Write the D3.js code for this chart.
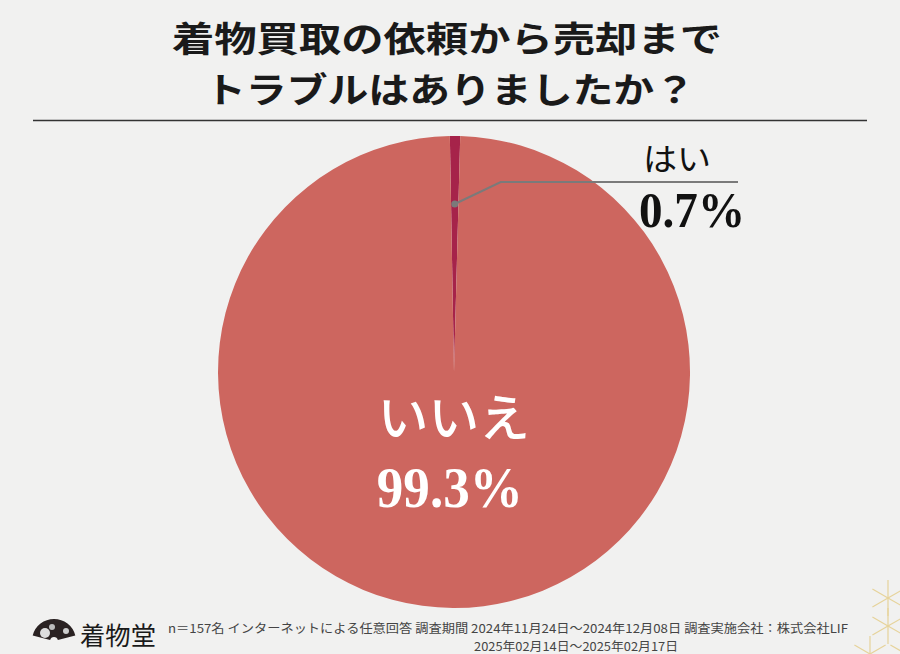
<!DOCTYPE html>
<html><head><meta charset="utf-8">
<script src="https://cdn.jsdelivr.net/npm/d3@7"></script>
<style>html,body{margin:0;padding:0;background:#f1f1f0;}svg{display:block;}</style>
</head><body>
<script>
const categories = ["はい", "いいえ"];
const values = [0.7, 99.3];
const valueLabels = ["0.7%", "99.3%"];
const titleLines = ["着物買取の依頼から売却まで", "トラブルはありましたか？"];
const footerLines = ["n＝157名 インターネットによる任意回答 調査期間 2024年11月24日～2024年12月08日 調査実施会社：株式会社LIF", "2025年02月14日～2025年02月17日"];
const brand = "着物堂";

const W = 900, H = 654;
const svg = d3.select("body").append("svg").attr("width", W).attr("height", H);
svg.append("rect").attr("width", W).attr("height", H).attr("fill", "#f1f1f0");

const cjk = "'Noto Sans CJK JP', 'Noto Sans', sans-serif";
const serif = "'Liberation Serif', 'DejaVu Serif', serif";

// title: two lines
const titleY = [52, 103];
const titleX = [447, 450];
const titleW = [550, 490];
titleLines.forEach((t, i) => {
  svg.append("text").attr("text-anchor", "middle")
    .attr("x", titleX[i]).attr("y", titleY[i])
    .attr("font-family", cjk).attr("font-weight", 700).attr("font-size", 35).attr("fill", "#1a1a1a")
    .attr("textLength", titleW[i]).attr("lengthAdjust", "spacingAndGlyphs").text(t);
});
svg.append("line").attr("x1", 33).attr("x2", 867).attr("y1", 120.5).attr("y2", 120.5)
  .attr("stroke", "#333").attr("stroke-width", 1.3);

// pie
const cx = 454, cy = 372, R = 236;
const colors = d3.scaleOrdinal().domain(categories).range(["#a6234a", "#cd665f"]);
const startA = -0.4 * 2 * Math.PI * values[0] / 100;
const pie = d3.pie().sort(null).value(d => d.v).startAngle(startA).endAngle(startA + 2 * Math.PI);
const data = categories.map((c, i) => ({ c, v: values[i], label: valueLabels[i] }));
const arcs = pie(data);
const arc = d3.arc().innerRadius(0).outerRadius(R);
const g = svg.append("g").attr("transform", `translate(${cx},${cy})`);
g.selectAll("path").data(arcs).join("path")
  .attr("d", arc).attr("fill", d => colors(d.data.c));

// small slice label with leader
const dotArc = d3.arc().innerRadius(168).outerRadius(168);
const p0 = dotArc.centroid(arcs[0]);
const elbow = [p0[0] + 46, p0[1] - 22];
const endX = 738 - cx;
g.append("polyline").attr("points", [p0, elbow, [endX, elbow[1]]].map(p => p.join(",")).join(" "))
  .attr("fill", "none").attr("stroke", "#7a7a7a").attr("stroke-width", 2);
g.append("circle").attr("cx", p0[0]).attr("cy", p0[1]).attr("r", 3.5).attr("fill", "#7a7a7a");
g.append("text").attr("x", 643 - cx).attr("y", elbow[1] - 12)
  .attr("font-family", cjk).attr("font-weight", 400).attr("font-size", 31).attr("fill", "#111")
  .attr("textLength", 68).attr("lengthAdjust", "spacingAndGlyphs")
  .text(arcs[0].data.c);
g.append("text").attr("x", 639 - cx).attr("y", elbow[1] + 45)
  .attr("font-family", serif).attr("font-weight", 700).attr("font-size", 50).attr("fill", "#111")
  .attr("textLength", 106).attr("lengthAdjust", "spacingAndGlyphs")
  .text(arcs[0].data.label);

// big slice label
const bigArc = d3.arc().innerRadius(46).outerRadius(46);
const pb = bigArc.centroid(arcs[1]);
g.append("text").attr("x", pb[0]).attr("y", pb[1] + 18).attr("text-anchor", "middle")
  .attr("font-family", cjk).attr("font-weight", 500).attr("font-size", 50).attr("fill", "#fff")
  .attr("textLength", 152).attr("lengthAdjust", "spacingAndGlyphs")
  .text(arcs[1].data.c);
g.append("text").attr("x", pb[0] - 4).attr("y", pb[1] + 89).attr("text-anchor", "middle")
  .attr("font-family", serif).attr("font-weight", 700).attr("font-size", 58).attr("fill", "#fff")
  .attr("textLength", 146).attr("lengthAdjust", "spacingAndGlyphs")
  .text(arcs[1].data.label);

// footer logo (fan)
const fan = svg.append("g").attr("transform", "translate(54,641)");
fan.append("path").attr("d", d3.arc().innerRadius(4).outerRadius(22).startAngle(-Math.PI * 0.42).endAngle(Math.PI * 0.42)())
  .attr("fill", "#2a2222");
fan.append("circle").attr("cx", -9).attr("cy", -8).attr("r", 5).attr("fill", "#ddd");
fan.append("circle").attr("cx", -2).attr("cy", -14).attr("r", 3).attr("fill", "#bbb");
fan.append("circle").attr("cx", 12).attr("cy", -10).attr("r", 3).attr("fill", "#ccc");
svg.append("text").attr("x", 80).attr("y", 645)
  .attr("font-family", cjk).attr("font-weight", 400).attr("font-size", 25).attr("fill", "#1a1a1a")
  .attr("textLength", 76).attr("lengthAdjust", "spacingAndGlyphs").text(brand);

// footer text
svg.append("text").attr("x", 168).attr("y", 633)
  .attr("font-family", cjk).attr("font-size", 12).attr("fill", "#444")
  .attr("textLength", 680).attr("lengthAdjust", "spacingAndGlyphs").text(footerLines[0]);
svg.append("text").attr("x", 474).attr("y", 651)
  .attr("font-family", cjk).attr("font-size", 12).attr("fill", "#444")
  .attr("textLength", 204).attr("lengthAdjust", "spacingAndGlyphs").text(footerLines[1]);

// corner decoration (asanoha)
const deco = svg.append("g").attr("stroke", "#e6d39a").attr("stroke-width", 1.2).attr("fill", "none");
const hexC = [[888, 626], [870, 654], [906, 654], [888, 598]];
hexC.forEach(([x, y]) => {
  for (let k = 0; k < 6; k++) {
    const a = Math.PI / 3 * k - Math.PI / 2;
    deco.append("line").attr("x1", x).attr("y1", y).attr("x2", x + 18 * Math.cos(a)).attr("y2", y + 18 * Math.sin(a));
  }
});
</script>
</body></html>
